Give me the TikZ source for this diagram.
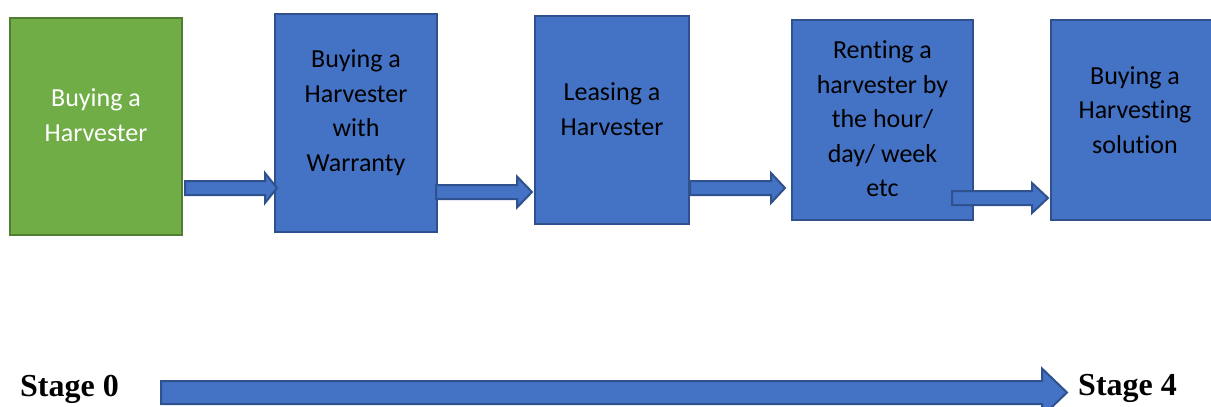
\documentclass[tikz,border=0pt]{standalone}
\usepackage{fontspec}
\setmainfont{Carlito}[Ligatures=NoCommon]
\newfontfamily\stagefont{Liberation Serif}
\usetikzlibrary{calc}
\definecolor{bfill}{HTML}{4472C4}
\definecolor{bline}{HTML}{2F528F}
\definecolor{gfill}{HTML}{70AD47}
\definecolor{gline}{HTML}{507E32}

\begin{document}
\begin{tikzpicture}
  [x=1pt,y=-1pt,
   box/.style={rectangle,draw=bline,fill=bfill,line width=2pt,inner sep=0pt},
   boxtext/.style={align=center,inner sep=0pt,font=\fontsize{26}{34.5}\selectfont},
   stage/.style={inner sep=0pt,anchor=base west,font=\stagefont\bfseries\fontsize{32}{38}\selectfont},
   blockarr/.style args={#1/#2/#3}{draw=bline,fill=bfill,line width=2pt,
     to path={let \p1=(\tikztostart), \p2=(\tikztotarget) in
       ({\x1},{\y1+#1pt}) -- ({\x2-#3pt},{\y1+#1pt}) -- ({\x2-#3pt},{\y1+#2pt}) -- ({\x2},{\y1})
       -- ({\x2-#3pt},{\y1-#2pt}) -- ({\x2-#3pt},{\y1-#1pt}) -- ({\x1},{\y1-#1pt}) -- cycle}}]
    \useasboundingbox (0,0) rectangle (1211,407);

    \node (buy)      [box,draw=gline,fill=gfill,minimum width=172,minimum height=217] at (96,126.5) {};
    \node (warranty) [box,minimum width=162,minimum height=218] at (356,123) {};
    \node (leasing)  [box,minimum width=154,minimum height=208] at (612,120) {};
    \node (renting)  [box,minimum width=181,minimum height=200] at (882.5,120) {};
    \node (solution) [box,minimum width=164,minimum height=200] at (1133,120) {};

    \node (t1)[boxtext,white] at ([yshift=11.5]buy.center) {Buying a\\Harvester};
    \node (t2)[boxtext] at ([yshift=10.5]warranty.center) {Buying a\\Harvester\\with\\Warranty};
    \node (t3)[boxtext] at ([yshift=11]leasing.center) {Leasing a\\Harvester};
    \node (t4)[boxtext] at ([yshift=1]renting.center) {Renting a\\harvester by\\the hour/\\day/ week\\etc};
    \node (t5)[boxtext] at ([xshift=2,yshift=10]solution.center) {Buying a\\Harvesting\\solution};

    \node (s0)[stage] at (20,396)   {Stage 0};
    \node (s4)[stage] at (1078,395) {Stage 4};

    \coordinate (r1) at (0,188);
    \coordinate (r2) at (0,192);
    \coordinate (r4) at (0,198);
    \coordinate (r5) at (0,392.5);

    \draw[blockarr=7/15/12] ([xshift=2]buy.east |- r1) to ([xshift=3]warranty.west |- r1);
    \draw[blockarr=7/15.5/15] ([xshift=-2]warranty.east |- r2) to ([xshift=-2]leasing.west |- r2);
    \draw[blockarr=7/15/14] (leasing.east |- r1) to ([xshift=-6]renting.west |- r1);
    \draw[blockarr=7/15/16] ([xshift=-22]renting.east |- r4) to ([xshift=-2]solution.west |- r4);

    \draw[blockarr=11.5/24/25] ([xshift=42]s0.east |- r5) to ([xshift=-11]s4.west |- r5);
  \end{tikzpicture}
\end{document}
